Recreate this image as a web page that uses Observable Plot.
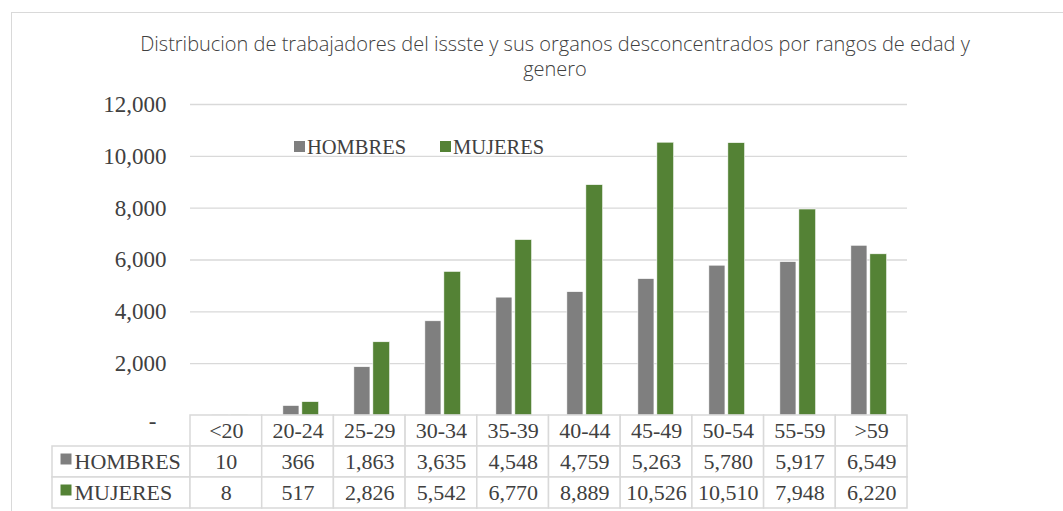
<!DOCTYPE html>
<html>
<head>
<meta charset="utf-8">
<script src="https://cdn.jsdelivr.net/npm/d3@7"></script>
<script src="https://cdn.jsdelivr.net/npm/@observablehq/plot@0.6"></script>
<style>
  html, body { margin: 0; padding: 0; background: #fff; }
  #wrap { position: relative; width: 1063px; height: 511px; overflow: hidden; background: #fff; }
  #frame { position: absolute; left: 11px; top: 12px; width: 1100px; height: 600px; border: 1.5px solid #d9d9d9; box-sizing: border-box; }
  #title { position: absolute; left: 40px; width: 1030px; top: 31px; text-align: center;
           font-family: "Open Sans", sans-serif; font-weight: 300; font-size: 20px; line-height: 25px; color: #404040; }
  #chart, #table { position: absolute; left: 0; }
  #chart { top: 0; }
  #table { top: 414px; }
  #legend { position: absolute; top: 136px; left: 0; font-family: "Liberation Serif", "Times New Roman", serif; font-size: 20.5px; color: #404040; }
  .lg { position: absolute; white-space: nowrap; display: flex; align-items: center; }
  .sw { display: inline-block; width: 11px; height: 11px; margin-right: 2px; margin-top: -3px; }
</style>
</head>
<body>
<div id="wrap">
  <div id="frame"></div>
  <div id="title"></div>
  <div id="chart"></div>
  <div id="table"></div>
  <div id="legend"></div>
</div>
<script>
const titleLines = ["Distribucion de trabajadores del issste y sus organos desconcentrados por rangos de edad y", "genero"];
const categories = ["<20", "20-24", "25-29", "30-34", "35-39", "40-44", "45-49", "50-54", "55-59", ">59"];
const hombres = [10, 366, 1863, 3635, 4548, 4759, 5263, 5780, 5917, 6549];
const mujeres = [8, 517, 2826, 5542, 6770, 8889, 10526, 10510, 7948, 6220];
const seriesNames = ["HOMBRES", "MUJERES"];
const seriesColors = ["#7f7f7f", "#548235"];
const yTicks = [0, 2000, 4000, 6000, 8000, 10000, 12000];

document.getElementById("title").innerHTML = titleLines.join("<br>");

const fmt = d3.format(",");
const W = 1063, ML = 190, MR = 156;
const colW = (W - ML - MR) / categories.length;
const half = colW / 2;

const seriesValues = [hombres, mujeres];
const barData = seriesNames.map((s, si) => categories.map((c, i) => ({cat: c, series: s, value: seriesValues[si][i]})));

const txt = "#404040";
const chart = Plot.plot({
  width: W, height: 440,
  marginLeft: ML, marginRight: MR, marginTop: 104, marginBottom: 25,
  x: {type: "band", domain: categories, padding: 0, axis: null},
  y: {domain: [0, 12000], axis: null},
  style: {background: "transparent", fontFamily: "'Liberation Serif', 'Times New Roman', serif"},
  marks: [
    Plot.ruleY(yTicks.filter(d => d > 0), {stroke: "#d9d9d9", strokeWidth: 1.4}),
    Plot.barY(barData[0], {x: "cat", y: "value", fill: seriesColors[0], stroke: "#ffffff", strokeWidth: 0.6,
      insetLeft: half - 18, insetRight: half + 1.2}),
    Plot.barY(barData[1], {x: "cat", y: "value", fill: seriesColors[1], stroke: "#ffffff", strokeWidth: 0.6,
      insetLeft: half + 1, insetRight: half - 18.5}),
    Plot.text(yTicks.filter(d => d > 0), {y: d => d, frameAnchor: "left", dx: -24, textAnchor: "end",
      text: d => fmt(d), fontSize: 23, fill: txt}),
    Plot.text(yTicks.filter(d => d === 0), {y: d => d, frameAnchor: "left", dx: -38, dy: 6, textAnchor: "middle",
      text: () => "-", fontSize: 23, fill: txt})
  ]
});
document.getElementById("chart").appendChild(chart);

// data table below the chart
const rows = ["header", ...seriesNames];
const labelX = -(ML - 52) / colW;
const cells = [];
categories.forEach((c, i) => {
  cells.push({i, row: "header", text: c});
  seriesNames.forEach((s, si) => cells.push({i, row: s, text: fmt(seriesValues[si][i])}));
});
const labelCells = seriesNames.map((s, si) => ({row: s, text: s, color: seriesColors[si]}));

const table = Plot.plot({
  width: W, height: 95,
  marginLeft: ML, marginRight: MR, marginTop: 1, marginBottom: 1,
  x: {domain: [0, categories.length], axis: null},
  y: {type: "band", domain: rows, padding: 0, axis: null},
  style: {background: "transparent", fontFamily: "'Liberation Serif', 'Times New Roman', serif"},
  marks: [
    Plot.barX(labelCells, {x1: labelX, x2: 0, y: "row", fill: "white", stroke: "#d9d9d9", strokeWidth: 1.5}),
    Plot.barX(cells, {x1: d => d.i, x2: d => d.i + 1, y: "row", fill: "white", stroke: "#d9d9d9", strokeWidth: 1.5}),
    Plot.text(cells, {x: d => d.i + 0.5, y: "row", text: "text", fontSize: 22, fill: txt}),
    Plot.dot(labelCells, {x: labelX, y: "row", dx: 13.5, dy: -3, symbol: "square", r: 6.2, fill: "color"}),
    Plot.text(labelCells, {x: labelX, y: "row", dx: 22, textAnchor: "start", text: "text", fontSize: 22, fill: txt})
  ]
});
document.getElementById("table").appendChild(table);

// legend
const legendPos = [294, 440];
const lg = document.getElementById("legend");
seriesNames.forEach((s, si) => {
  const d = document.createElement("div");
  d.className = "lg";
  d.style.left = legendPos[si] + "px";
  d.innerHTML = `<span class="sw" style="background:${seriesColors[si]}"></span><span>${s}</span>`;
  lg.appendChild(d);
});
</script>
</body>
</html>
